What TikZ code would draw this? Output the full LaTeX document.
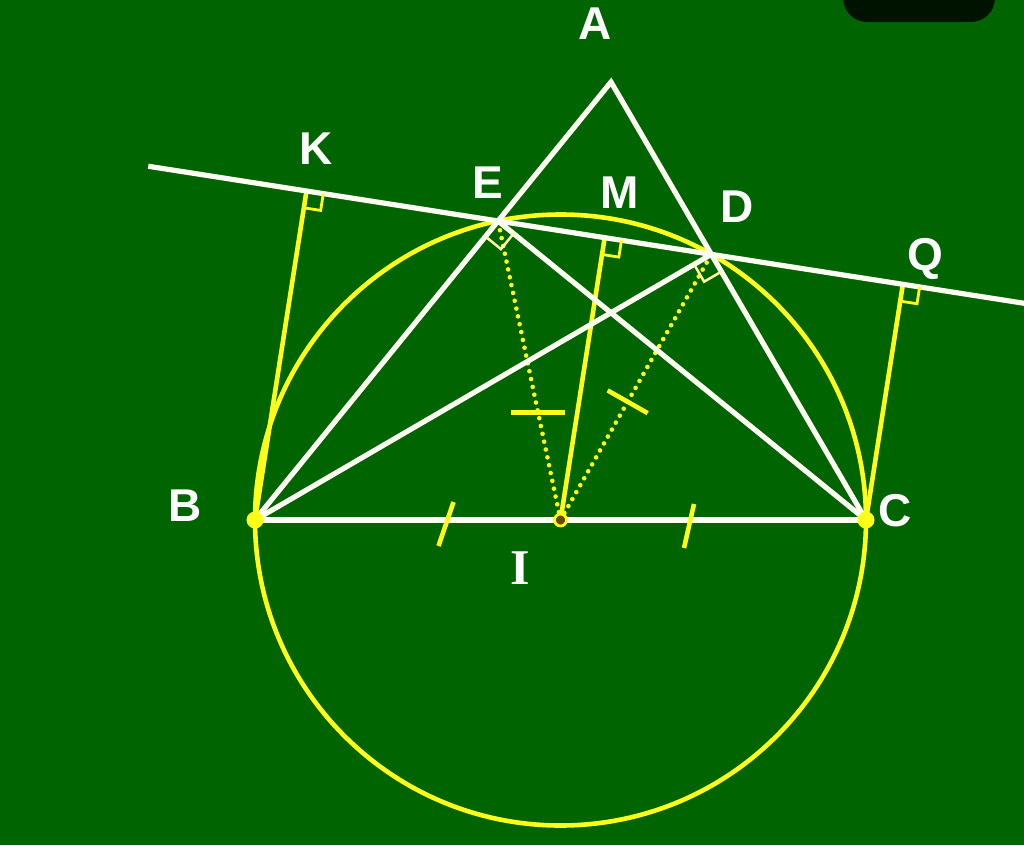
\documentclass[tikz,border=0pt]{standalone}
\usepackage{fontspec}
\setmainfont{Liberation Sans}
\newfontfamily\serifI{Liberation Serif}
\usetikzlibrary{calc}
\definecolor{bg}{RGB}{0,100,0}
\definecolor{yel}{RGB}{255,255,25}
\definecolor{darkbox}{RGB}{0,18,0}
\definecolor{icore}{RGB}{110,70,0}
\newcommand\ramark[5][]{%
  \coordinate (ra1) at ($(#2)!#5!(#3)$);
  \coordinate (ra2) at ($(#2)!#5!(#4)$);
  \draw[#1] (ra1) -- ($(ra1)+(ra2)-(#2)$) -- (ra2);}
\begin{document}
\begin{tikzpicture}[x=1pt,y=-1pt,
  wl/.style={white!95!yellow,line width=5.2pt},
  yl/.style={yel,line width=4.6pt},
  dl/.style={yel,line width=4.6pt,dash pattern=on 0pt off 8pt,line cap=round},
  ra/.style={yel,line width=2.8pt},
  rw/.style={white!60!yel,line width=2.5pt},
  lbl/.style={text=white,font=\fontsize{46}{46}\selectfont\bfseries,inner sep=0pt}
]
\fill[bg] (0,0) rectangle (1024,845);
\useasboundingbox (0,0) rectangle (1024,845);
\clip (0,0) rectangle (1024,845);
\fill[darkbox,rounded corners=24pt] (843,-40) rectangle (995,22);

\coordinate (B) at (255,520);
\coordinate (C) at (866,520);
\coordinate (A) at (611,82);
\coordinate (I) at ($(B)!0.5!(C)$);
\coordinate (E) at ($(B)!(C)!(A)$);
\coordinate (D) at ($(C)!(B)!(A)$);
\coordinate (L1) at ($(E)!-1.64!(D)$);
\coordinate (L2) at ($(E)!2.47!(D)$);
\coordinate (K) at ($(E)!(B)!(D)$);
\coordinate (M) at ($(E)!(I)!(D)$);
\coordinate (Q) at ($(E)!(C)!(D)$);

% circle
\draw[yl] (I) circle[radius=305.5pt];

% yellow perpendiculars
\draw[yl] (B) -- (K);
\draw[yl] (C) -- (Q);
\draw[yl] (I) -- (M);
\draw[dl] (I) -- (E);
\draw[dl] (I) -- (D);

% white lines
\draw[wl,line join=miter] (B) -- (A) -- (C);
\draw[wl] (B) -- (C);
\draw[wl] (B) -- (D);
\draw[wl] (C) -- (E);
\draw[wl] (L1) -- (L2);

% right-angle marks
\ramark[ra]{K}{D}{B}{17pt}
\ramark[ra]{M}{D}{I}{17pt}
\ramark[ra]{Q}{L2}{C}{17pt}
\ramark[rw]{E}{B}{C}{20pt}
\ramark[rw]{D}{B}{C}{20pt}

% tick marks
\coordinate (T1) at (446,524);
\coordinate (T2) at (689,526);
\draw[yl] ($(T1)+(7.5,-22)$) -- ($(T1)+(-7.5,22)$);
\draw[yl] ($(T2)+(5,-22)$) -- ($(T2)+(-5,22)$);
\coordinate (T3) at ($(I)!0.36!(E)$);
\draw[yl] ($(T3)+(-27,0)$) -- ($(T3)+(27,0)$);
\coordinate (T4) at ($(I)!0.445!(D)$);
\draw[yl] ($(T4)!23pt!90:(D)$) -- ($(T4)!23pt!-90:(D)$);

% points
\fill[yel] (B) circle[radius=8.5pt];
\fill[yel] (C) circle[radius=8.5pt];
\draw[yel,line width=2.8pt,fill=icore] (I) circle[radius=6pt];

% labels
\node[lbl] (lA) at (595,24) {A};
\node[lbl] (lK) at (316,149) {K};
\node[lbl] (lE) at (488,183) {E};
\node[lbl] (lM) at (620,193) {M};
\node[lbl] (lD) at (737,207) {D};
\node[lbl] (lQ) at (925,259) {Q};
\node[lbl] (lB) at (185,506) {B};
\node[lbl] (lC) at (895,511) {C};
\node[text=white,inner sep=0pt,font=\serifI\fontsize{50}{50}\selectfont\bfseries] (lI) at (520,568) {I};
\end{tikzpicture}
\end{document}
